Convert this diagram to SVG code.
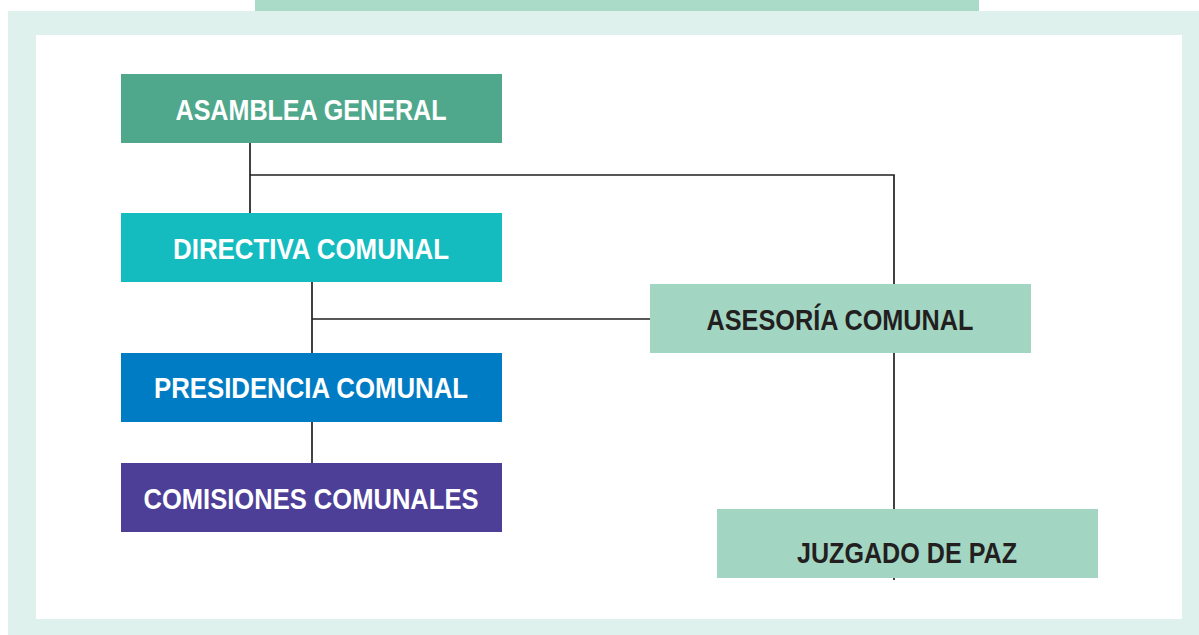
<svg xmlns="http://www.w3.org/2000/svg" width="1199" height="635" viewBox="0 0 1199 635">
<style>
.lbl{font-family:"Liberation Sans Narrow","Liberation Sans",Arial,sans-serif;font-weight:bold;font-size:30px;text-anchor:middle}
.w{fill:#ffffff}
.d{fill:#231f20}
.ln{stroke:#231f20;stroke-width:1.7;fill:none}
</style>
<rect x="0" y="0" width="1199" height="635" fill="#ffffff"/>
<rect x="8" y="11" width="1191" height="624" fill="#dff1ec"/>
<rect x="255" y="0" width="724" height="11" fill="#aadbc8"/>
<rect x="36" y="35" width="1146" height="584" fill="#ffffff"/>
<g id="connectors">
<path class="ln" d="M250 143 V213"/>
<path class="ln" d="M250 175 H894 V580"/>
<path class="ln" d="M312 282 V463"/>
<path class="ln" d="M312 319 H650"/>
</g>
<g id="asamblea">
<rect x="121" y="74" width="381" height="69" fill="#4fa88c"/>
<text class="lbl w" x="311" y="120" textLength="271" lengthAdjust="spacingAndGlyphs">ASAMBLEA GENERAL</text>
</g>
<g id="directiva">
<rect x="121" y="213" width="381" height="69" fill="#14bcc0"/>
<text class="lbl w" x="311" y="259" textLength="276" lengthAdjust="spacingAndGlyphs">DIRECTIVA COMUNAL</text>
</g>
<g id="presidencia">
<rect x="121" y="353" width="381" height="69" fill="#007cc4"/>
<text class="lbl w" x="311" y="398" textLength="314" lengthAdjust="spacingAndGlyphs">PRESIDENCIA COMUNAL</text>
</g>
<g id="comisiones">
<rect x="121" y="463" width="381" height="69" fill="#4d3f98"/>
<text class="lbl w" x="311" y="509" textLength="335" lengthAdjust="spacingAndGlyphs">COMISIONES COMUNALES</text>
</g>
<g id="asesoria">
<rect x="650" y="284" width="381" height="69" fill="#a2d6c3"/>
<text class="lbl d" x="840" y="330" textLength="267" lengthAdjust="spacingAndGlyphs">ASESORÍA COMUNAL</text>
</g>
<g id="juzgado">
<rect x="717" y="509" width="381" height="69" fill="#a2d6c3"/>
<text class="lbl d" x="907" y="563" textLength="220" lengthAdjust="spacingAndGlyphs">JUZGADO DE PAZ</text>
</g>
</svg>
